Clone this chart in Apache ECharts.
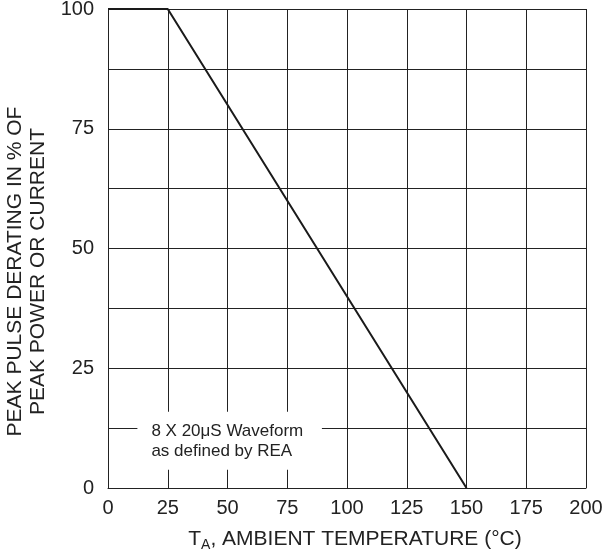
<!DOCTYPE html>
<html><head><meta charset="utf-8">
<script src="https://cdn.jsdelivr.net/npm/echarts@6/dist/echarts.min.js"></script>
<style>html,body{margin:0;padding:0;background:#fff}#c{width:605px;height:554px}</style>
</head><body><div id="c"></div>
<script>
const temps = [0, 25, 150];
const derating = [100, 100, 0];
const xTicks = [0, 25, 50, 75, 100, 125, 150, 175, 200];
const yTicks = [0, 25, 50, 75, 100];
const noteLines = ['8 X 20\u03bcS Waveform', 'as defined by REA'];

const chart = echarts.init(document.getElementById('c'));
const font = 'Liberation Sans, Arial, sans-serif';
chart.setOption({
  animation: false,
  backgroundColor: '#fff',
  grid: {left: 108, right: 19, top: 9, bottom: 66, containLabel: false, outerBoundsMode: 'none'},
  xAxis: {
    type: 'value', min: 0, max: 200, interval: 25,
    axisLine: {show: true, lineStyle: {color: '#222', width: 1}},
    axisTick: {show: false},
    splitLine: {show: true, lineStyle: {color: '#222', width: 1}},
    axisLabel: {color: '#222', fontSize: 20, fontFamily: font, margin: 10,
      formatter: v => xTicks.includes(v) ? String(v) : ''},
    name: '{t|T}{s|A}{t|, AMBIENT TEMPERATURE (°C)}',
    nameLocation: 'middle', nameGap: 38,
    nameTextStyle: {padding: [0, 0, 0, 16], rich: {
      t: {fontSize: 21, fontFamily: font, color: '#222'},
      s: {fontSize: 14, fontFamily: font, color: '#222', verticalAlign: 'bottom', padding: [12, 0, 0, 0]}
    }}
  },
  yAxis: {
    type: 'value', min: 0, max: 100, interval: 12.5,
    axisLine: {show: true, lineStyle: {color: '#222', width: 1}},
    axisTick: {show: false},
    splitLine: {show: true, lineStyle: {color: '#222', width: 1}},
    axisLabel: {color: '#222', fontSize: 20, fontFamily: font, margin: 14,
      formatter: v => yTicks.includes(v) ? String(v) : ''},
    name: 'PEAK PULSE DERATING IN % OF\nPEAK POWER OR CURRENT',
    nameLocation: 'middle', nameGap: 53,
    nameTextStyle: {fontSize: 21, fontFamily: font, color: '#222', lineHeight: 23, align: 'center',
      padding: [0, 46, 0, 0]}
  },
  series: [{
    type: 'line',
    data: temps.map((t, i) => [t, derating[i]]),
    symbol: 'none',
    lineStyle: {color: '#1a1a1a', width: 2},
    markArea: {
      silent: true,
      itemStyle: {color: '#fff', opacity: 1},
      label: {show: true, position: 'insideLeft', distance: 14, color: '#222', fontSize: 17, fontFamily: font,
        lineHeight: 20, align: 'left', formatter: noteLines.join('\n')},
      data: [[{xAxis: 12.3, yAxis: 15.9}, {xAxis: 89.5, yAxis: 3.8}]]
    }
  }]
});
</script></body></html>
